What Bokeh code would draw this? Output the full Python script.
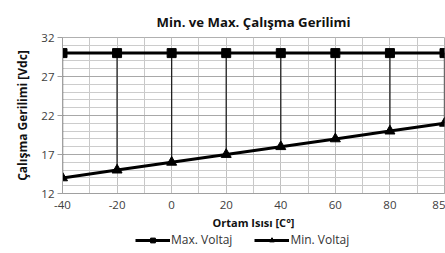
from bokeh.plotting import figure
from bokeh.models import Range1d, FixedTicker, Legend, LegendItem
from bokeh.layouts import column
from bokeh.embed import file_html
from bokeh.resources import INLINE

temps = ["-40", "-20", "0", "20", "40", "60", "80", "85"]
max_v = [30, 30, 30, 30, 30, 30, 30, 30]
min_v = [14, 15, 16, 17, 18, 19, 20, 21]
y_ticks = [12, 17, 22, 27, 32]
series_names = ["Max. Voltaj", "Min. Voltaj"]

idx = list(range(len(temps)))
FONT = "Open Sans"

p = figure(frame_width=382, frame_height=156, output_backend="svg", toolbar_location=None,
           x_range=Range1d(0, len(temps) - 1), y_range=Range1d(12, 32),
           min_border_left=62, min_border_right=1, min_border_top=37, min_border_bottom=42,
           title="Min. ve Max. Çalışma Gerilimi")
p.title.align = "center"
p.title.text_font = FONT
p.title.text_font_size = "13.2px"
p.title.text_font_style = "bold"
p.title.text_color = "#111111"
p.title.standoff = 14
p.outline_line_color = "#b0b0b0"

p.xaxis.ticker = FixedTicker(ticks=idx, minor_ticks=[i + 0.5 for i in idx[:-1]])
p.xaxis.major_label_overrides = {i: t for i, t in zip(idx, temps)}
p.yaxis.ticker = FixedTicker(ticks=y_ticks, minor_ticks=list(range(12, 33)))

for ax in (p.xaxis, p.yaxis):
    ax.axis_line_color = "#a0a0a0"
    ax.major_tick_line_color = "#a0a0a0"
    ax.minor_tick_line_color = None
    ax.major_tick_in = 0
    ax.major_tick_out = 5
    ax.major_label_text_font = FONT
    ax.major_label_text_font_size = "11.5px"
    ax.major_label_text_color = "#404040"
    ax.axis_label_text_font = FONT
    ax.axis_label_text_font_style = "bold"
    ax.axis_label_text_color = "#111111"

p.xaxis.major_tick_line_color = None
p.xaxis.axis_label = "Ortam Isısı [C°]"
p.xaxis.axis_label_text_font_size = "11px"
p.xaxis.major_label_standoff = 2
p.xaxis.axis_label_standoff = 3
p.yaxis.axis_label = "Çalışma Gerilimi [Vdc]"
p.yaxis.axis_label_text_font_size = "12px"
p.yaxis.major_label_standoff = 3
p.yaxis.axis_label_standoff = 7

p.xgrid.grid_line_color = "#c0c0c0"
p.xgrid.minor_grid_line_color = "#c8c8c8"
p.ygrid.grid_line_color = "#a8a8a8"
p.ygrid.minor_grid_line_color = "#cccccc"

p.segment(x0=idx, y0=min_v, x1=idx, y1=max_v, line_color="#222222", line_width=1.3)

p.line(idx, max_v, line_color="black", line_width=3)
p.scatter(idx, max_v, marker="square", size=9, color="black")
p.line(idx, min_v, line_color="black", line_width=3)
p.scatter(idx, min_v, marker="triangle", size=10, color="black")

# legend strip below the chart (its series sit outside its own ranges, so only the legend shows)
q = figure(width=445, height=18, output_backend="svg", toolbar_location=None,
           x_range=Range1d(100, 101), y_range=Range1d(100, 101), min_border=0)
q.axis.visible = False
q.grid.visible = False
q.outline_line_color = None
ql1 = q.line(idx, max_v, line_color="black", line_width=3)
qs1 = q.scatter(idx, max_v, marker="square", size=9, color="black")
ql2 = q.line(idx, min_v, line_color="black", line_width=3)
qs2 = q.scatter(idx, min_v, marker="triangle", size=10, color="black")

legend = Legend(items=[LegendItem(label=series_names[0], renderers=[ql1, qs1]),
                       LegendItem(label=series_names[1], renderers=[ql2, qs2])],
                orientation="horizontal", location=(73, 5),
                border_line_color=None, background_fill_alpha=0,
                label_text_font=FONT, label_text_font_size="12px",
                label_text_color="#333333", glyph_width=35, glyph_height=12,
                label_standoff=1, spacing=22, padding=0, margin=0,
                label_height=12)
q.add_layout(legend, "center")

open("out.html", "w").write(file_html(column(p, q, spacing=0), INLINE))
